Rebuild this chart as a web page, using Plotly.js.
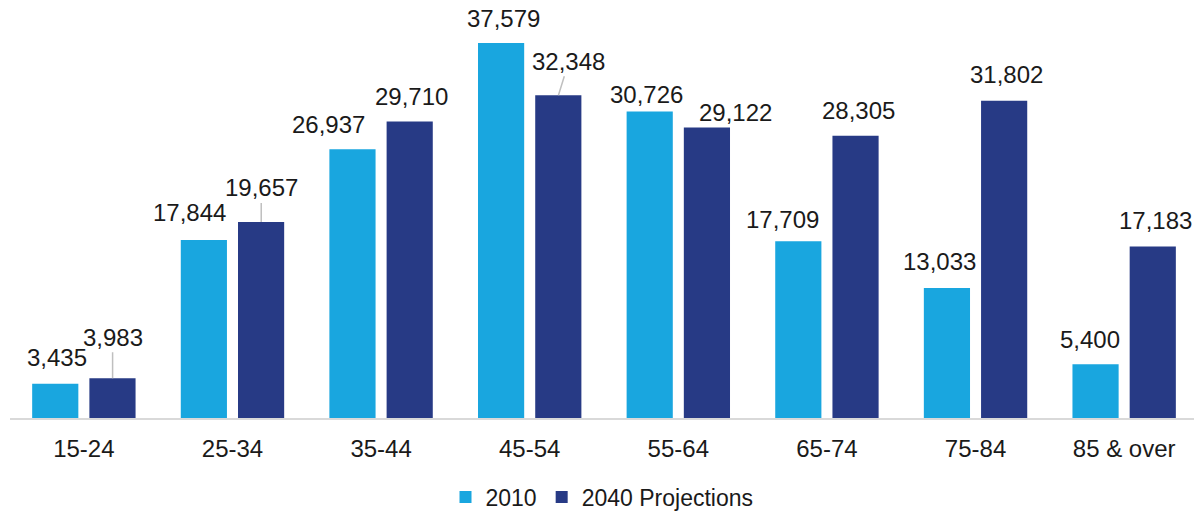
<!DOCTYPE html>
<html><head><meta charset="utf-8">
<script src="https://cdn.plot.ly/plotly-3.0.1.min.js"></script>
<style>html,body{margin:0;padding:0;background:#fff}#chart{width:1194px;height:513px}</style>
</head><body><div id="chart"></div>
<script>
const categories = ["15-24","25-34","35-44","45-54","55-64","65-74","75-84","85 & over"];
const series2010 = [3435,17844,26937,37579,30726,17709,13033,5400];
const series2040 = [3983,19657,29710,32348,29122,28305,31802,17183];
const seriesNames = ["2010","2040 Projections"];
const colors = ["#19A6DF","#273A85"];
// label placement (px) relative to the top-centre of each bar: [dx, dy]
const labelOffset2010 = [[2,26],[-14,27],[-24,25],[2.5,25],[-3,17],[-16,22],[-7,26],[-5.5,25]];
const labelOffset2040 = [[0,0],[2,0],[1.5,25],[0,0],[28.5,15],[3,25],[2.5,26],[3,26]];
// leader-line labels: [series, index, ax, ay]
const leaders = [[1,0,0,-41],[1,1,0,-34],[1,3,10.5,-34]];

const fmt = v => v.toLocaleString("en-US");
const FONT = "Liberation Sans, Arial, sans-serif";
const traces = [series2010, series2040].map((vals,i)=>({
  type:"bar", name:seriesNames[i], x:categories, y:vals,
  marker:{color:colors[i]}, hoverinfo:"none"
}));
const annotations = [];
[series2010, series2040].forEach((vals,s)=>{
  const offs = s===0 ? labelOffset2010 : labelOffset2040;
  vals.forEach((v,k)=>{
    const L = leaders.find(l=>l[0]===s&&l[1]===k);
    const a = {x:k + (s===0 ? -0.1934 : 0.1934), xref:"x", y:v, yref:"y", text:fmt(v),
      font:{family:FONT,size:24,color:"#1a1a1a"}};
    if(L){
      Object.assign(a,{showarrow:true,arrowhead:0,arrowwidth:1.5,arrowcolor:"#bfbfbf",ax:L[2],ay:L[3],standoff:0});
    } else {
      Object.assign(a,{showarrow:false,yanchor:"middle",xshift:offs[k][0],yshift:offs[k][1]});
    }
    annotations.push(a);
  });
});

const layout = {
  width:1194, height:513,
  margin:{l:10,r:0,t:0,b:95,autoexpand:false},
  paper_bgcolor:"#fff", plot_bgcolor:"#fff",
  barmode:"group", bargap:0.23, bargroupgap:0.193,
  font:{family:FONT,size:24,color:"#1a1a1a"},
  xaxis:{type:"category", range:[-0.497,7.47], showline:true, linecolor:"#d9d9d9", linewidth:2, automargin:false,
    ticks:"", showgrid:false, tickfont:{size:24,family:FONT,color:"#1a1a1a"}, ticklabelstandoff:8, fixedrange:true},
  yaxis:{range:[0,41900], visible:false, showgrid:false, zeroline:false, fixedrange:true, automargin:false},
  showlegend:true,
  legend:{orientation:"h", x:0.5, xanchor:"center", yref:"container", y:0.031, yanchor:"middle",
    font:{size:23,family:FONT,color:"#1a1a1a"}, itemwidth:30, traceorder:"normal"},
  annotations:annotations
};
Plotly.newPlot("chart", traces, layout, {displayModeBar:false, staticPlot:true});
</script></body></html>
